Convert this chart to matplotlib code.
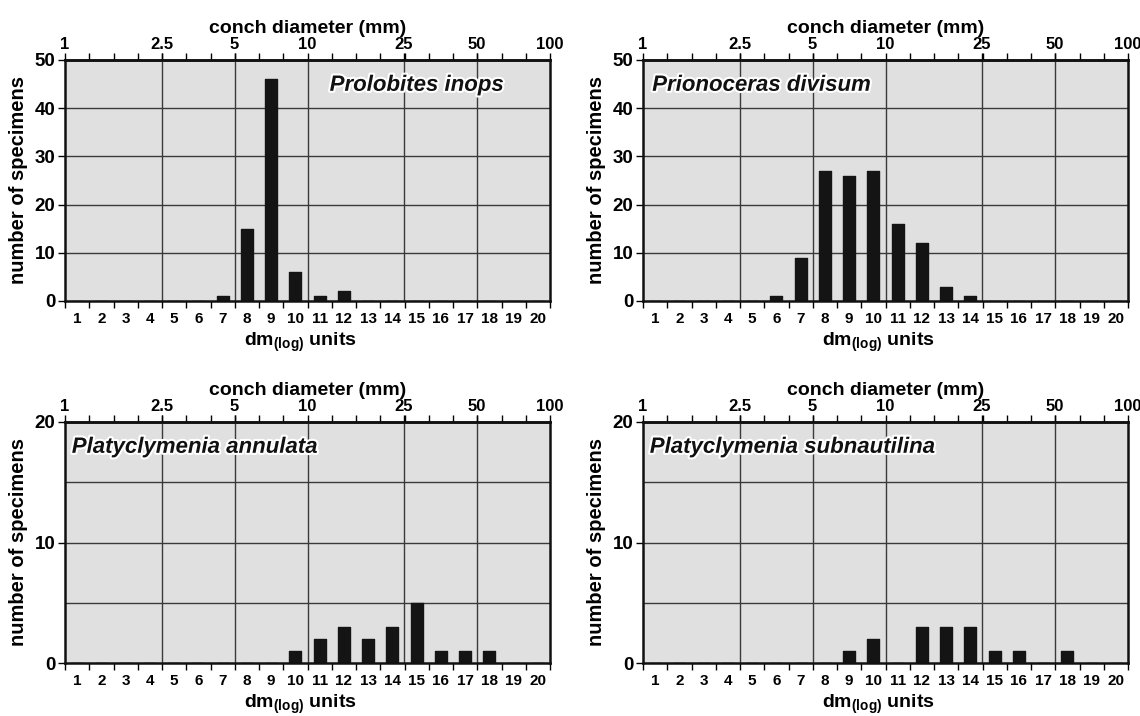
import numpy as np
import matplotlib
matplotlib.use("Agg")
import matplotlib.pyplot as plt
import matplotlib.patheffects as pe
from matplotlib.ticker import FixedLocator, NullFormatter

plt.rcParams['font.family'] = ['Liberation Sans', 'DejaVu Sans']
plt.rcParams['font.weight'] = 'bold'
plt.rcParams['mathtext.fontset'] = 'custom'
plt.rcParams['mathtext.rm'] = 'Liberation Sans:bold'
plt.rcParams['mathtext.bf'] = 'Liberation Sans:bold'

units = list(range(1, 21))
conch_ticks = [1, 2.5, 5, 10, 25, 50, 100]
conch_labels = ['1', '2.5', '5', '10', '25', '50', '100']

species = ['Prolobites inops', 'Prionoceras divisum',
           'Platyclymenia annulata', 'Platyclymenia subnautilina']

# counts per dm(log) unit 1..20
prolobites = [0, 0, 0, 0, 0, 0, 1, 15, 46, 6, 1, 2, 0, 0, 0, 0, 0, 0, 0, 0]
prionoceras = [0, 0, 0, 0, 0, 1, 9, 27, 26, 27, 16, 12, 3, 1, 0, 0, 0, 0, 0, 0]
annulata = [0, 0, 0, 0, 0, 0, 0, 0, 0, 1, 2, 3, 2, 3, 5, 1, 1, 1, 0, 0]
subnautilina = [0, 0, 0, 0, 0, 0, 0, 0, 1, 2, 0, 3, 3, 3, 1, 1, 0, 1, 0, 0]
series = [prolobites, prionoceras, annulata, subnautilina]

ymax = [50, 50, 20, 20]
yticks = [[0, 10, 20, 30, 40, 50], [0, 10, 20, 30, 40, 50], [0, 10, 20], [0, 10, 20]]
ygrid = [[10, 20, 30, 40], [10, 20, 30, 40], [5, 10, 15], [5, 10, 15]]

W, H = 1140, 716
fig = plt.figure(figsize=(W / 100, H / 100), dpi=100)

boxes = [(65, 60), (643, 60), (65, 422), (643, 422)]  # (left px, top px)
aw, ah = 485, 241

def fwd(x):
    return 10 ** ((np.asarray(x, dtype=float) - 0.5) / 10)

def inv(d):
    d = np.clip(np.asarray(d, dtype=float), 1e-9, None)
    return 0.5 + 10 * np.log10(d)

label_pos = [(0.905, 'right'), (0.019, 'left'), (0.014, 'left'), (0.014, 'left')]

for i in range(4):
    lx, ty = boxes[i]
    ax = fig.add_axes([lx / W, (H - ty - ah) / H, aw / W, ah / H])
    ax.set_facecolor('#e0e0e0')
    ax.set_xlim(0.5, 20.5)
    ax.set_ylim(0, ymax[i])

    # grid
    for g in ygrid[i]:
        ax.axhline(g, color='#3a3a3a', lw=1.0, zorder=1)
    for d in conch_ticks[1:-1]:
        ax.axvline(inv(d), color='#3a3a3a', lw=1.0, zorder=1)

    ax.bar(units, series[i], width=0.5, color='#141414', edgecolor='#141414',
           linewidth=1.0, joinstyle='round', zorder=3)

    for s in ax.spines.values():
        s.set_linewidth(1.8)
        s.set_color('#111111')
        s.set_zorder(4)

    ax.set_xticks(units)
    ax.set_xticklabels([str(u) for u in units], fontsize=11, fontweight='bold')
    ax.xaxis.set_minor_locator(FixedLocator(np.arange(0.5, 21, 1)))
    ax.tick_params(axis='x', which='major', length=0, pad=8)
    ax.tick_params(axis='x', which='minor', length=5, width=1, direction='out')
    ax.set_yticks(yticks[i])
    ax.set_yticklabels([str(t) for t in yticks[i]], fontsize=13.5, fontweight='bold')
    ax.tick_params(axis='y', length=5, width=1, direction='out', pad=2)

    ax.set_xlabel(r'dm$_{(\mathrm{log})}$ units', fontsize=14, fontweight='bold', labelpad=3.5)
    ax.xaxis.label.set_x(0.486)
    ax.set_ylabel('number of specimens', fontsize=14.5, fontweight='bold', labelpad=5)

    sec = ax.secondary_xaxis('top', functions=(fwd, inv))
    sec.set_xticks(conch_ticks)
    sec.set_xticklabels(conch_labels, fontsize=12, fontweight='bold')
    sec.xaxis.set_minor_locator(FixedLocator(fwd(np.arange(0.5, 21, 1))))
    sec.xaxis.set_minor_formatter(NullFormatter())
    sec.tick_params(axis='x', which='both', length=5, width=1, direction='out', pad=0.5)
    sec.spines['top'].set_linewidth(1.8)
    sec.set_xlabel('conch diameter (mm)', fontsize=14, fontweight='bold', labelpad=3)

    xp, ha = label_pos[i]
    ax.text(xp, 0.895, species[i], transform=ax.transAxes, ha=ha, va='center',
            fontsize=16, fontweight='bold', fontstyle='italic', color='#111111',
            path_effects=[pe.withStroke(linewidth=3, foreground='white')], zorder=5)

fig.savefig('out.png', dpi=100)
